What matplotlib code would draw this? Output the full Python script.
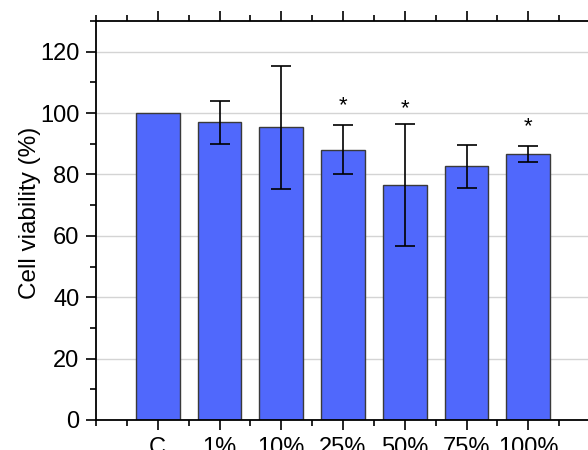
import matplotlib
matplotlib.use('Agg')
import matplotlib.pyplot as plt
from matplotlib.ticker import MultipleLocator

plt.rcParams['font.family'] = ['Liberation Sans', 'DejaVu Sans']

groups = ['C', '1%', '10%', '25%', '50%', '75%', '100%']
viability = [100, 97, 95.4, 88, 76.6, 82.6, 86.6]
errors = [0, 7, 20, 8, 20, 7, 2.7]
marks = ['', '', '', '*', '*', '', '*']
mark_y = [0, 0, 0, 102.5, 101.5, 0, 95.5]

bar_color = '#5068FC'

fig = plt.figure(figsize=(5.88, 4.5), dpi=100)
ax = fig.add_axes([96/588, 30/450, 494/588, 399/450])

pos = list(range(1, len(groups) + 1))
ax.bar(pos, viability, width=0.71, color=bar_color, edgecolor='#3a3a3a',
       linewidth=1.0, zorder=2)
ax.errorbar(pos[1:], viability[1:], yerr=errors[1:], fmt='none', ecolor='black',
            elinewidth=1.2, capsize=7, capthick=1.2, zorder=3)
for p, m, y in zip(pos, marks, mark_y):
    if m:
        ax.text(p, y, m, ha='center', va='center', fontsize=16, zorder=4)

ax.set_xlim(0, 8)
ax.set_ylim(0, 130)
ax.set_xticks(pos)
ax.set_xticklabels(groups)
ax.xaxis.set_minor_locator(MultipleLocator(0.5))
ax.yaxis.set_major_locator(MultipleLocator(20))
ax.yaxis.set_minor_locator(MultipleLocator(10))
ax.set_yticks([0, 20, 40, 60, 80, 100, 120])

ax.yaxis.grid(True, color='#d4d4d4', linewidth=1.0, zorder=0)
ax.set_axisbelow(True)

ax.tick_params(axis='both', which='major', direction='out', length=7, width=1.2,
               labelsize=17, pad=5)
ax.tick_params(axis='both', which='minor', direction='out', length=4, width=1.2)
ax.tick_params(axis='x', which='both', top=True, labeltop=False)
ax.tick_params(axis='x', which='major', pad=5)

for s in ['left', 'bottom', 'top']:
    ax.spines[s].set_linewidth(1.3)
ax.spines['right'].set_visible(False)

ax.set_ylabel('Cell viability (%)', fontsize=17.5)
ax.yaxis.set_label_coords(-0.112, 0.52)

fig.savefig('out.png', dpi=100)
